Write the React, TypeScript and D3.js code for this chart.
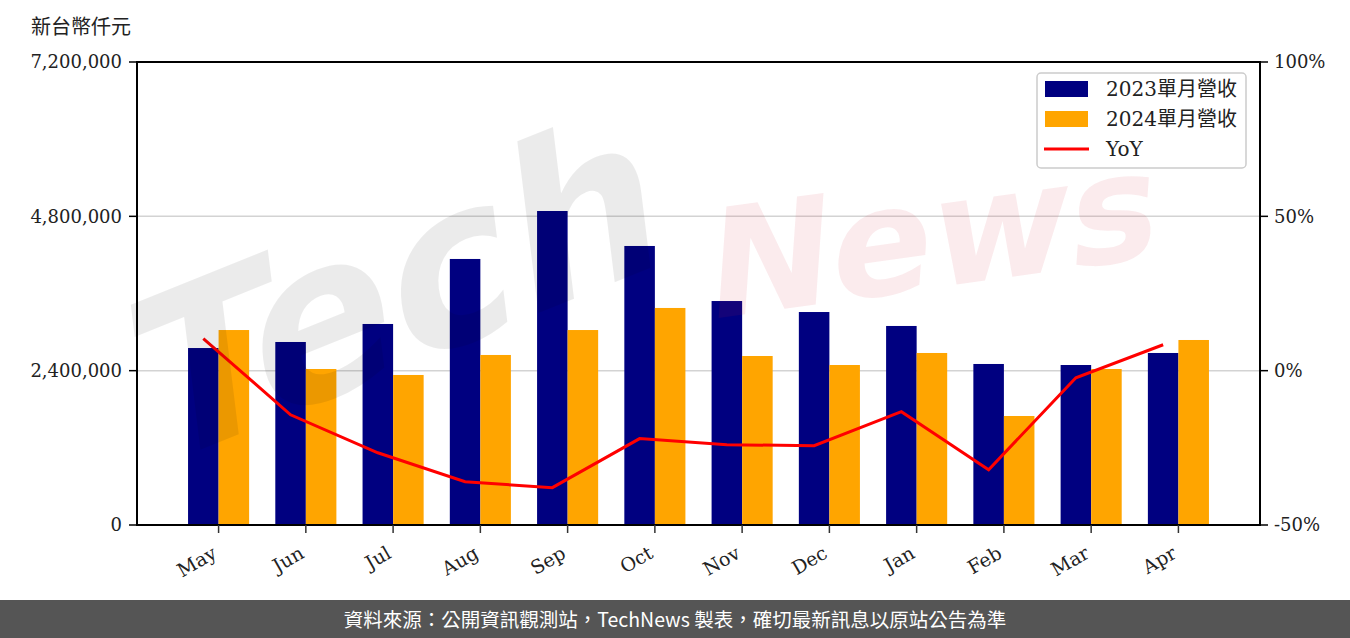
import * as d3 from "d3";
import { useEffect, useRef } from "react";

// 月份
const months = ["May", "Jun", "Jul", "Aug", "Sep", "Oct", "Nov", "Dec", "Jan", "Feb", "Mar", "Apr"];
// 2023 單月營收 (仟元)
const rev2023 = [2752000, 2846000, 3126000, 4137000, 4883000, 4339000, 3483000, 3312000, 3095000, 2504000, 2488000, 2675000];
// 2024 單月營收 (仟元)
const rev2024 = [3032000, 2426000, 2333000, 2644000, 3032000, 3375000, 2628000, 2488000, 2675000, 1695000, 2426000, 2877000];
// YoY (%)
const yoy = [10.4, -14.3, -26.6, -36.0, -37.9, -22.0, -24.0, -24.3, -13.3, -32.1, -2.3, 8.4];
const leftTicks = [0, 2400000, 4800000, 7200000];
const rightTicks = [-50, 0, 50, 100];

const SERIF = "'DejaVu Serif', 'Noto Sans CJK TC', serif";

export default function App() {
  const svgRef = useRef<SVGSVGElement>(null);

  useEffect(() => {
    render();
  }, []);

  const render = () => {
    const W = 1350;
    const H = 638;
    const m = { left: 137, right: 1260, top: 62, bottom: 525 };
    const svg = d3.select(svgRef.current).attr("width", W).attr("height", H);
    svg.selectAll("*").remove();

    const w = 0.35;
    const x = d3.scaleLinear().domain([-0.935, 11.935]).range([m.left, m.right]);
    const y = d3.scaleLinear().domain([0, 7200000]).range([m.bottom, m.top]);
    const y2 = d3.scaleLinear().domain([-50, 100]).range([m.bottom, m.top]);
    const bw = x(w) - x(0);

    // 網格線
    svg
      .append("g")
      .selectAll("line")
      .data(leftTicks.slice(1, 3))
      .join("line")
      .attr("x1", m.left)
      .attr("x2", m.right)
      .attr("y1", (d) => y(d))
      .attr("y2", (d) => y(d))
      .attr("stroke", "#d3d3d3")
      .attr("stroke-width", 1.5);

    // 長條
    svg
      .append("g")
      .selectAll("rect")
      .data(rev2023)
      .join("rect")
      .attr("x", (d, i) => x(i - w))
      .attr("width", bw)
      .attr("y", (d) => y(d))
      .attr("height", (d) => y(0) - y(d))
      .attr("fill", "#000080");
    svg
      .append("g")
      .selectAll("rect")
      .data(rev2024)
      .join("rect")
      .attr("x", (d, i) => x(i))
      .attr("width", bw)
      .attr("y", (d) => y(d))
      .attr("height", (d) => y(0) - y(d))
      .attr("fill", "#FFA500");

    // YoY 折線
    const line = d3
      .line<number>()
      .x((d, i) => x(i - w / 2))
      .y((d) => y2(d));
    svg
      .append("path")
      .datum(yoy)
      .attr("d", line)
      .attr("fill", "none")
      .attr("stroke", "#FF0000")
      .attr("stroke-width", 3);

    // 外框
    svg
      .append("rect")
      .attr("x", m.left)
      .attr("y", m.top)
      .attr("width", m.right - m.left)
      .attr("height", m.bottom - m.top)
      .attr("fill", "none")
      .attr("stroke", "#000")
      .attr("stroke-width", 2);

    // 左軸
    const gl = svg.append("g");
    leftTicks.forEach((t) => {
      gl.append("line")
        .attr("x1", m.left - 8)
        .attr("x2", m.left)
        .attr("y1", y(t))
        .attr("y2", y(t))
        .attr("stroke", "#000")
        .attr("stroke-width", 1.5);
      gl.append("text")
        .attr("x", m.left - 15)
        .attr("y", y(t))
        .attr("dy", "0.36em")
        .attr("text-anchor", "end")
        .attr("font-family", SERIF)
        .attr("font-size", 18)
        .attr("fill", "#222")
        .text(d3.format(",")(t));
    });

    // 右軸
    const gr = svg.append("g");
    rightTicks.forEach((t) => {
      gr.append("line")
        .attr("x1", m.right)
        .attr("x2", m.right + 8)
        .attr("y1", y2(t))
        .attr("y2", y2(t))
        .attr("stroke", "#000")
        .attr("stroke-width", 1.5);
      gr.append("text")
        .attr("x", m.right + 14)
        .attr("y", y2(t))
        .attr("dy", "0.36em")
        .attr("font-family", SERIF)
        .attr("font-size", 18)
        .attr("fill", "#222")
        .text(`${t}%`);
    });

    // X 軸
    const gx = svg.append("g");
    months.forEach((mo, i) => {
      gx.append("line")
        .attr("x1", x(i))
        .attr("x2", x(i))
        .attr("y1", m.bottom)
        .attr("y2", m.bottom + 8)
        .attr("stroke", "#333")
        .attr("stroke-width", 1.5);
      gx.append("text")
        .attr("transform", `translate(${x(i) - 4},${m.bottom + 26}) rotate(-30)`)
        .attr("text-anchor", "end")
        .attr("dy", "0.36em")
        .attr("font-family", SERIF)
        .attr("font-size", 19)
        .attr("fill", "#222")
        .text(mo);
    });

    // 單位
    svg
      .append("text")
      .attr("x", 31)
      .attr("y", 34)
      .attr("font-family", "'Noto Sans CJK TC', serif")
      .attr("font-size", 20)
      .attr("fill", "#222")
      .text("新台幣仟元");

    // 圖例
    const lg = svg.append("g").attr("transform", "translate(1037,73)");
    lg.append("rect")
      .attr("width", 209)
      .attr("height", 95)
      .attr("rx", 4)
      .attr("fill", "rgba(255,255,255,0.8)")
      .attr("stroke", "#cccccc")
      .attr("stroke-width", 1.5);
    const items = [
      { label: "2023單月營收", color: "#000080", type: "bar" },
      { label: "2024單月營收", color: "#FFA500", type: "bar" },
      { label: "YoY", color: "#FF0000", type: "line" },
    ];
    items.forEach((it, i) => {
      const cy = 16 + i * 30;
      if (it.type === "bar") {
        lg.append("rect").attr("x", 8).attr("y", cy - 8).attr("width", 43).attr("height", 16).attr("fill", it.color);
      } else {
        lg.append("line").attr("x1", 7).attr("x2", 52).attr("y1", cy).attr("y2", cy).attr("stroke", it.color).attr("stroke-width", 3);
      }
      lg.append("text")
        .attr("x", 69)
        .attr("y", cy)
        .attr("dy", "0.36em")
        .attr("font-family", SERIF)
        .attr("font-size", 20)
        .attr("fill", "#222")
        .text(it.label);
    });

    // 浮水印
    const wm = svg.append("g").style("pointer-events", "none");
    wm.append("text")
      .attr("transform", "translate(150,470) rotate(-22) skewX(-15)")
      .attr("font-family", "'DejaVu Sans'")
      .attr("font-weight", "bold")
      .attr("font-size", 220)
      .attr("fill", "rgba(0,0,0,0.08)")
      .text("Tech");
    wm.append("text")
      .attr("transform", "translate(705,320) rotate(-8) skewX(-12)")
      .attr("font-family", "'DejaVu Sans'")
      .attr("font-weight", "bold")
      .attr("font-size", 150)
      .attr("fill", "rgba(210,30,50,0.09)")
      .text("News");

    // 頁尾
    svg.append("rect").attr("x", 0).attr("y", 600).attr("width", W).attr("height", 38).attr("fill", "#555555");
    svg
      .append("text")
      .attr("x", W / 2)
      .attr("y", 620)
      .attr("dy", "0.36em")
      .attr("text-anchor", "middle")
      .attr("font-family", "'Noto Sans CJK TC', sans-serif")
      .attr("font-size", 19.5)
      .attr("fill", "#ffffff")
      .text("資料來源：公開資訊觀測站，TechNews 製表，確切最新訊息以原站公告為準");
  };

  return (
    <div style={{ position: "absolute", left: 0, top: 0 }}>
      <svg ref={svgRef}></svg>
    </div>
  );
}
